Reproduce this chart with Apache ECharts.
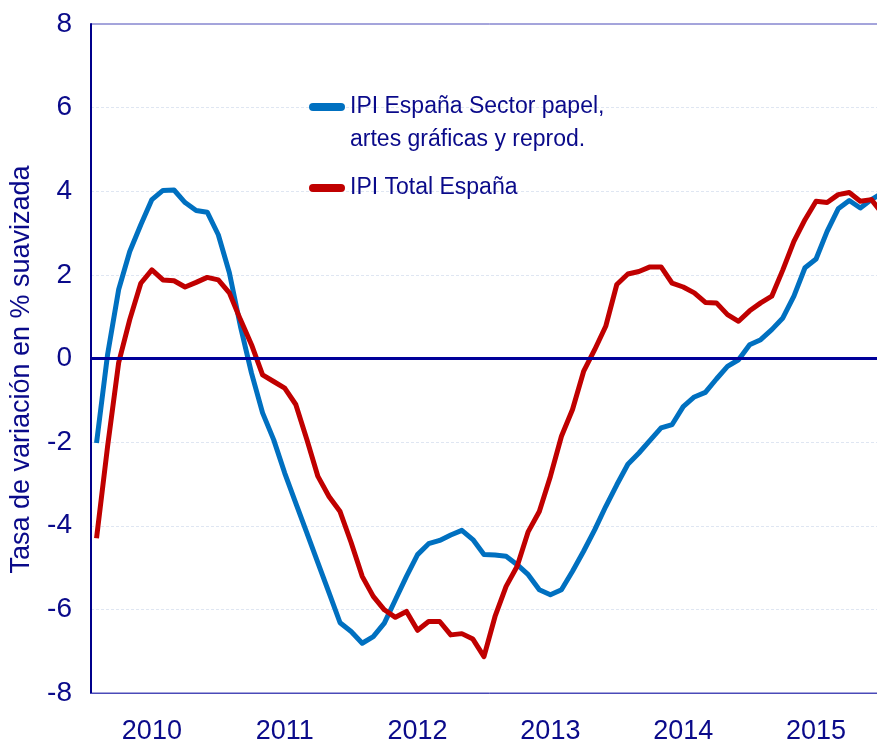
<!DOCTYPE html>
<html>
<head>
<meta charset="utf-8">
<title>IPI España</title>
<script src="https://cdn.jsdelivr.net/npm/echarts@6/dist/echarts.min.js"></script>
<style>
  html, body { margin: 0; padding: 0; background: #fff; overflow: hidden; }
  /* algo más ancho que la ventana: la última observación queda cortada en el borde */
  #main { width: 890px; height: 747px; }
</style>
</head>
<body>
<div id="main"></div>
<script>
// meses feb-2010 .. ene-2016 (el último queda cortado en el borde)
var months = [];
for (var y = 2010; y <= 2016; y++) {
  for (var m = 1; m <= 12; m++) {
    if ((y === 2010 && m < 2) || (y === 2016 && m > 1)) continue;
    months.push(y + "-" + (m < 10 ? "0" + m : m));
  }
}
var yearLabels = ["2010", "2011", "2012", "2013", "2014", "2015"];

// IPI España Sector papel, artes gráficas y reprod.
var papel = [
  -2.02, 0.1, 1.65, 2.56, 3.2, 3.8, 4.02, 4.03, 3.73, 3.54, 3.5, 2.96,
  2.05, 0.77, -0.35, -1.3, -1.94, -2.74, -3.46, -4.17, -4.89, -5.6, -6.32, -6.53,
  -6.81, -6.65, -6.33, -5.77, -5.21, -4.69, -4.43, -4.35, -4.22, -4.11, -4.33, -4.69,
  -4.7, -4.73, -4.93, -5.17, -5.53, -5.65, -5.53, -5.09, -4.61, -4.1, -3.54, -3.02,
  -2.53, -2.26, -1.96, -1.66, -1.58, -1.15, -0.92, -0.81, -0.49, -0.19, -0.03, 0.33,
  0.45, 0.69, 0.97, 1.49, 2.17, 2.38, 3.04, 3.58, 3.78, 3.6, 3.8, 3.96
];
// IPI Total España
var total = [
  -4.3, -2.1, -0.1, 0.93, 1.8, 2.12, 1.88, 1.86, 1.71, 1.82, 1.94, 1.88,
  1.57, 0.93, 0.33, -0.39, -0.55, -0.71, -1.1, -1.94, -2.82, -3.3, -3.66, -4.4,
  -5.21, -5.69, -6.01, -6.19, -6.05, -6.5, -6.29, -6.29, -6.61, -6.58, -6.71, -7.13,
  -6.17, -5.45, -4.97, -4.14, -3.66, -2.82, -1.86, -1.22, -0.31, 0.21, 0.77, 1.77,
  2.02, 2.08, 2.19, 2.19, 1.8, 1.71, 1.57, 1.34, 1.33, 1.05, 0.89, 1.14,
  1.33, 1.49, 2.12, 2.8, 3.32, 3.76, 3.73, 3.92, 3.97, 3.76, 3.8, 3.46
];

var navy = "#0a0a8a";
var font = "'Liberation Sans', Arial, sans-serif";
var capsule = "path://M4,0 L32,0 A4,4 0 0 1 32,8 L4,8 A4,4 0 0 1 4,0 Z";
var nombrePapel = "IPI España Sector papel,\nartes gráficas y reprod.";
var nombreTotal = "IPI Total España";

var chart = echarts.init(document.getElementById("main"));
chart.setOption({
  animation: false,
  grid: {
    left: 89,
    top: 24,
    width: 799,
    height: 669,
    show: true,
    borderColor: "#4a4ab8",
    borderWidth: 1
  },
  legend: [
    {
      left: 309,
      top: 57.5,
      padding: 0,
      itemWidth: 36,
      itemHeight: 8,
      icon: capsule,
      data: [nombrePapel],
      // línea vacía arriba: así la primera línea queda a la altura del icono
      formatter: "\n{name}",
      textStyle: { color: navy, fontSize: 23, fontFamily: font, lineHeight: 33 }
    },
    {
      left: 309,
      top: 171.5,
      padding: 0,
      itemWidth: 36,
      itemHeight: 8,
      icon: capsule,
      data: [nombreTotal],
      textStyle: { color: navy, fontSize: 23, fontFamily: font, lineHeight: 33 }
    }
  ],
  xAxis: {
    type: "category",
    data: months,
    boundaryGap: true,
    axisLine: { onZero: false, lineStyle: { color: "#4a4ab8", width: 1 } },
    axisTick: { show: false },
    axisLabel: {
      interval: function (idx, val) { return val.slice(5) === "07"; },
      formatter: function (val) {
        var i = yearLabels.indexOf(val.slice(0, 4));
        return i >= 0 ? yearLabels[i] : "";
      },
      color: navy,
      fontSize: 27,
      fontFamily: font,
      margin: 25
    },
    splitLine: { show: false }
  },
  yAxis: {
    type: "value",
    min: -8,
    max: 8,
    interval: 2,
    name: "Tasa de variación en % suavizada",
    nameLocation: "middle",
    nameGap: 56,
    nameTextStyle: {
      color: navy,
      fontSize: 27,
      fontFamily: font,
      padding: [0, 22, 0, 0]
    },
    axisLine: { show: true, lineStyle: { color: "#00008b", width: 2 } },
    axisTick: { show: false },
    axisLabel: { color: navy, fontSize: 28, fontFamily: font, margin: 19 },
    splitLine: {
      show: true,
      showMinLine: false,
      showMaxLine: false,
      lineStyle: { color: "#dfe6f2", width: 1, type: [3, 2] }
    }
  },
  series: [
    {
      name: nombrePapel,
      type: "line",
      data: papel,
      symbol: "none",
      color: "#0070c0",
      lineStyle: { width: 5, color: "#0070c0", join: "round" },
      markLine: {
        silent: true,
        symbol: "none",
        label: { show: false },
        lineStyle: { color: "#000099", width: 3, type: "solid" },
        data: [{ yAxis: 0 }]
      }
    },
    {
      name: nombreTotal,
      type: "line",
      data: total,
      symbol: "none",
      color: "#c00000",
      lineStyle: { width: 5, color: "#c00000", join: "round" }
    }
  ]
});
</script>
</body>
</html>
